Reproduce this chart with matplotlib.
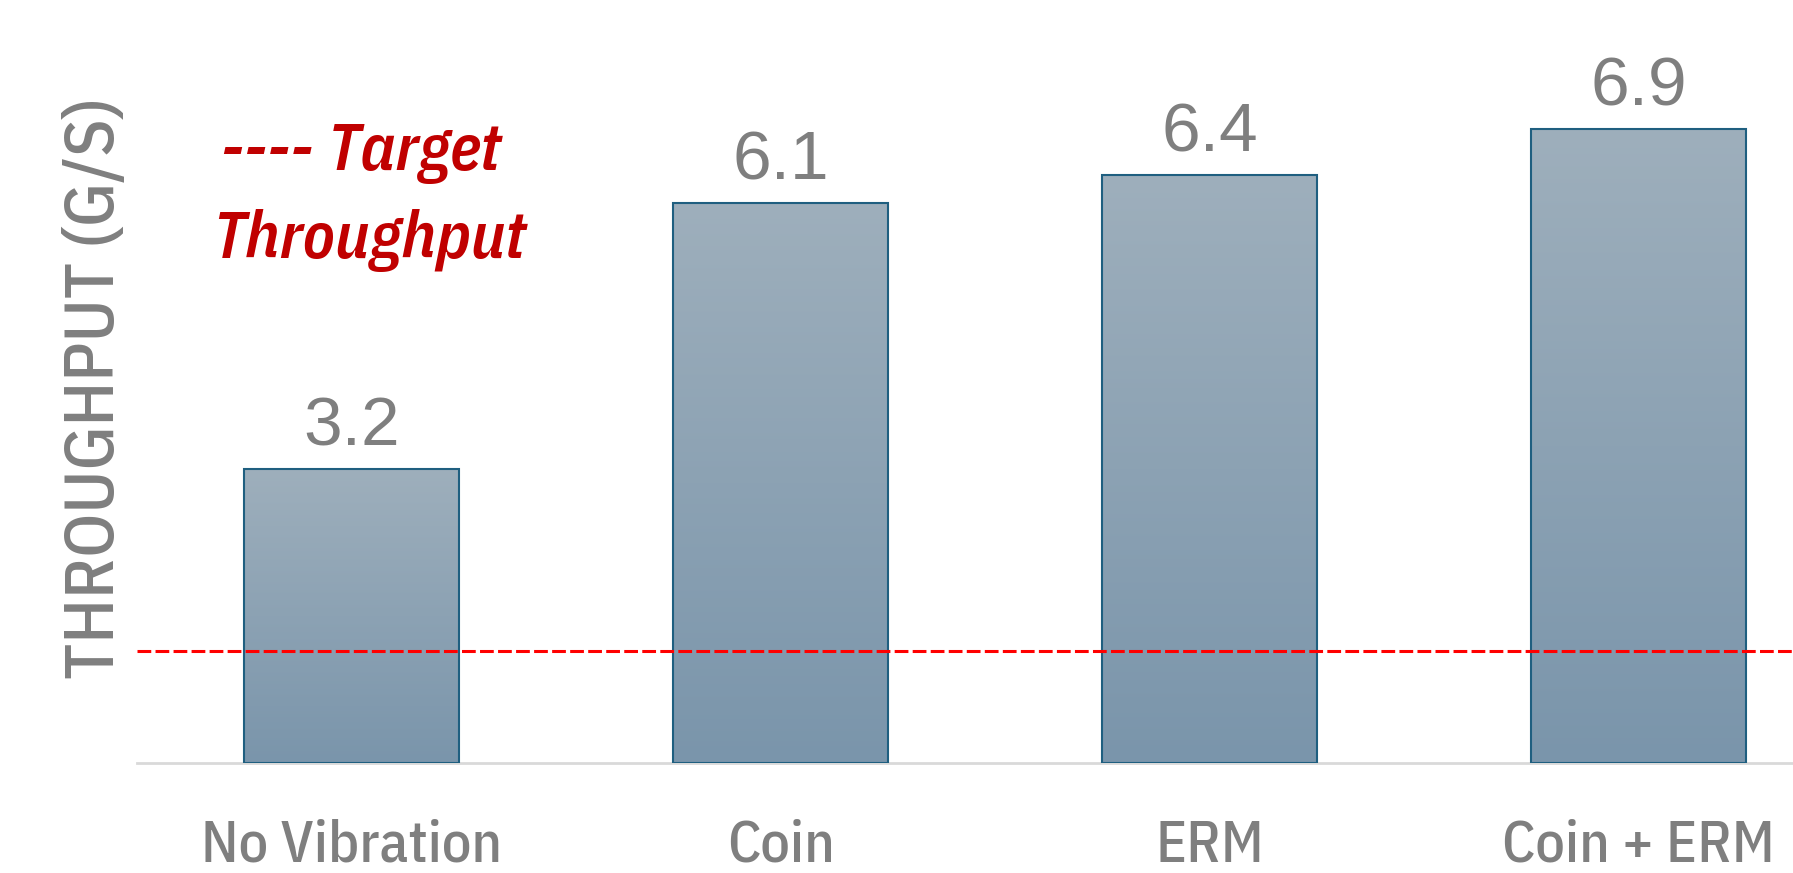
import matplotlib.pyplot as plt
import numpy as np
from matplotlib.colors import LinearSegmentedColormap

categories = ['No Vibration', 'Coin', 'ERM', 'Coin + ERM']
throughput = [3.2, 6.1, 6.4, 6.9]
target = 1.22

cond = ['IBM Plex Sans Condensed', 'DejaVu Sans']

fig = plt.figure(figsize=(17.93, 8.73), dpi=100)
ax = fig.add_axes([0.0764, 0.126, 0.9236, 0.874])

x = np.arange(len(categories))
bars = ax.bar(x, throughput, width=0.5, color='none', edgecolor='#1f5f80', linewidth=1.5, zorder=3)

# vertical gradient fill for each bar
cmap = LinearSegmentedColormap.from_list('g', ['#7a95ab', '#9eafbc'])
grad = np.linspace(0, 1, 256).reshape(-1, 1)
for b in bars:
    x0, y0 = b.get_x(), b.get_y()
    w, h = b.get_width(), b.get_height()
    im = ax.imshow(grad, cmap=cmap, origin='lower', aspect='auto',
                   extent=[x0, x0 + w, y0, y0 + h], zorder=2)
    im.set_clip_path(b)

for xi, v in zip(x, throughput):
    ax.text(xi, v + 0.26, f'{v}', ha='center', va='baseline', fontsize=50,
            color='#7f7f7f', family=['Liberation Sans', 'DejaVu Sans'])

ax.axhline(target, color='#ff0000', linestyle=(0, (4.5, 1.4)), linewidth=2.2, zorder=4)

fig.text(0.2013, 0.8053, '---- Target', ha='center', va='baseline', fontsize=47,
         color='#c00000', style='italic', weight='semibold', family=cond)
fig.text(0.2061, 0.7045, 'Throughput', ha='center', va='baseline', fontsize=47,
         color='#c00000', style='italic', weight='semibold', family=cond)

ax.set_xlim(-0.5, 3.36)
ax.set_ylim(0, 8.31)
ax.set_xticks(x)
ax.set_xticklabels(categories, fontsize=42, color='#7f7f7f', family=cond,
                   weight='medium', va='baseline')
ax.tick_params(axis='x', length=0, pad=71)
ax.set_yticks([])
for s in ['top', 'right', 'left']:
    ax.spines[s].set_visible(False)
ax.spines['bottom'].set_color('#d9d9d9')
ax.spines['bottom'].set_linewidth(2)

fig.text(0.0535, 0.555, 'THROUGHPUT (G/S)', rotation=90, ha='center', va='center',
         fontsize=50, color='#7f7f7f', weight='medium', family=cond)

plt.savefig('out.png', dpi=100)
